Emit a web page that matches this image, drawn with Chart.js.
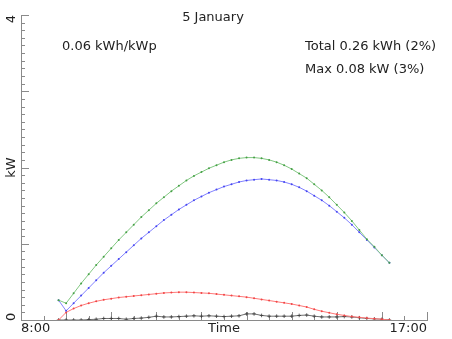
<!DOCTYPE html>
<html>
<head>
<meta charset="utf-8">
<script src="https://cdn.jsdelivr.net/npm/chart.js@4/dist/chart.umd.min.js"></script>
<style>
  html, body { margin: 0; padding: 0; background: #fff; }
</style>
</head>
<body>
<canvas id="myChart" width="452" height="339"></canvas>
<script>
// 10 minute samples for the day
var times = [
  '8:50',
  '9:00', '9:10', '9:20', '9:30', '9:40', '9:50',
  '10:00', '10:10', '10:20', '10:30', '10:40', '10:50',
  '11:00', '11:10', '11:20', '11:30', '11:40', '11:50',
  '12:00', '12:10', '12:20', '12:30', '12:40', '12:50',
  '13:00', '13:10', '13:20', '13:30', '13:40', '13:50',
  '14:00', '14:10', '14:20', '14:30', '14:40', '14:50',
  '15:00', '15:10', '15:20', '15:30', '15:40', '15:50',
  '16:00', '16:10'
];

// kW
var clearSky = [
  0.26, 0.22, 0.35, 0.48, 0.60, 0.72, 0.83, 0.94, 1.05, 1.15,
  1.25, 1.35, 1.44, 1.53, 1.61, 1.69, 1.76, 1.83, 1.89, 1.94,
  1.99, 2.03, 2.07, 2.10, 2.12, 2.13, 2.13, 2.12, 2.10, 2.07,
  2.03, 1.98, 1.92, 1.86, 1.78, 1.70, 1.61, 1.51, 1.41, 1.30,
  1.18, 1.06, 0.96, 0.85, 0.75
];
var expected = [
  0.26, 0.12, 0.22, 0.32, 0.42, 0.52, 0.62, 0.71, 0.80, 0.89,
  0.98, 1.07, 1.15, 1.23, 1.31, 1.38, 1.45, 1.51, 1.57, 1.62,
  1.67, 1.71, 1.75, 1.78, 1.81, 1.83, 1.84, 1.85, 1.84, 1.83,
  1.81, 1.78, 1.74, 1.69, 1.63, 1.57, 1.50, 1.42, 1.34, 1.25,
  1.15, 1.05, 0.95, 0.85, 0.75
];
var diffuse = [
  0.00, 0.10, 0.15, 0.19, 0.22, 0.245, 0.265, 0.28, 0.295, 0.305,
  0.315, 0.325, 0.335, 0.345, 0.355, 0.36, 0.365, 0.365, 0.36, 0.355,
  0.35, 0.34, 0.33, 0.32, 0.31, 0.30, 0.285, 0.27, 0.255, 0.24,
  0.225, 0.21, 0.19, 0.17, 0.14, 0.115, 0.095, 0.075, 0.06, 0.045,
  0.035, 0.025, 0.018, 0.01, 0.00
];
var measured = [
  0.00, 0.00, 0.00, 0.00, 0.005, 0.01, 0.02, 0.02, 0.02, 0.01,
  0.02, 0.025, 0.035, 0.05, 0.04, 0.04, 0.045, 0.05, 0.055, 0.05,
  0.055, 0.05, 0.045, 0.05, 0.055, 0.08, 0.08, 0.06, 0.05, 0.05,
  0.05, 0.05, 0.06, 0.065, 0.05, 0.04, 0.04, 0.04, 0.045, 0.04,
  0.03, 0.02, 0.015, 0.01, 0.00
];

var title = '5 January';
var yieldText = '0.06 kWh/kWp';
var totalText = 'Total 0.26 kWh (2%)';
var maxText = 'Max 0.08 kW (3%)';

var xTickLabels = ['8:00', 'Time', '17:00'];
var yTickLabels = ['0', 'kW', '4'];

function hours(s) {
  var p = s.split(':');
  return +p[0] + p[1] / 60;
}

function series(vals) {
  return times.map(function (t, i) { return {x: hours(t), y: vals[i]}; });
}

var FONT = '13px "DejaVu Sans", sans-serif';
var AXIS = '#8a8a8a';
var INK = '#222';

// inward ticks, edge-aligned tick labels and the text block
var decor = {
  id: 'decor',
  beforeDatasetsDraw: function (chart) {
    var c = chart.ctx, a = chart.chartArea;
    var xs = chart.scales.x, ys = chart.scales.y;
    c.save();
    c.strokeStyle = AXIS;
    c.lineWidth = 1;
    c.beginPath();
    for (var h = 16; h <= 34; h++) {
      var px = Math.round(xs.getPixelForValue(h / 2)) + 0.5;
      var len = h % 2 ? 4 : 8;
      c.moveTo(px, a.bottom);
      c.lineTo(px, a.bottom - len);
    }
    for (var k = 0; k <= 40; k++) {
      var py = Math.round(ys.getPixelForValue(k / 10)) + 0.5;
      var l = k % 10 ? 4 : 8;
      c.moveTo(a.left, py);
      c.lineTo(a.left + l, py);
    }
    c.stroke();
    c.restore();
  },
  afterDraw: function (chart) {
    var c = chart.ctx, a = chart.chartArea;
    var xs = chart.scales.x, ys = chart.scales.y;
    c.save();
    c.fillStyle = INK;
    c.font = FONT;
    c.textBaseline = 'middle';

    c.textAlign = 'center';
    c.fillText(title, 213, 18);
    c.textAlign = 'left';
    c.fillText(yieldText, 62, 47);
    c.fillText(totalText, 305, 47);
    c.fillText(maxText, 305, 70);

    var ly = a.bottom + 9;
    c.textAlign = 'left';
    c.fillText(xTickLabels[0], a.left, ly);
    c.textAlign = 'center';
    c.fillText(xTickLabels[1], xs.getPixelForValue(12.5), ly);
    c.textAlign = 'right';
    c.fillText(xTickLabels[2], a.right, ly);

    c.translate(12, 0);
    c.rotate(-Math.PI / 2);
    c.textAlign = 'left';
    c.fillText(yTickLabels[0], -a.bottom - 1, 0);
    c.textAlign = 'center';
    c.fillText(yTickLabels[1], -ys.getPixelForValue(2), 0);
    c.textAlign = 'right';
    c.fillText(yTickLabels[2], -a.top, 0);
    c.restore();
  }
};

var ctx = document.getElementById('myChart');

const cfg = {
  type: 'line',
  data: {
    datasets: [
      {
        label: 'clear sky',
        data: series(clearSky),
        borderColor: 'rgb(130,200,130)',
        backgroundColor: 'rgb(70,160,70)',
        borderWidth: 1,
        pointRadius: 1,
        pointBorderWidth: 0
      },
      {
        label: 'expected',
        data: series(expected),
        borderColor: 'rgb(130,130,255)',
        backgroundColor: 'rgb(70,70,240)',
        borderWidth: 1,
        pointRadius: 1,
        pointBorderWidth: 0
      },
      {
        label: 'diffuse',
        data: series(diffuse),
        borderColor: 'rgb(255,120,120)',
        backgroundColor: 'rgb(240,70,70)',
        borderWidth: 1,
        pointRadius: 1,
        pointBorderWidth: 0
      },
      {
        label: 'measured',
        data: series(measured),
        borderColor: 'rgb(110,110,110)',
        backgroundColor: 'rgb(60,60,60)',
        borderWidth: 1,
        pointStyle: 'cross',
        pointRadius: 1.8,
        pointBorderWidth: 0.8,
        pointBorderColor: 'rgb(60,60,60)'
      }
    ]
  },
  options: {
    responsive: false,
    animation: false,
    devicePixelRatio: 1,
    layout: { padding: { left: 21, right: 25, top: 15, bottom: 19 } },
    plugins: {
      legend: { display: false },
      tooltip: { enabled: false }
    },
    elements: { line: { tension: 0 } },
    scales: {
      x: {
        type: 'linear',
        min: 8,
        max: 17,
        ticks: { display: false },
        grid: { display: false, drawTicks: false },
        border: { color: AXIS, width: 1 },
        afterFit: function (s) { s.height = 0; }
      },
      y: {
        min: 0,
        max: 4,
        ticks: { display: false },
        grid: { display: false, drawTicks: false },
        border: { color: AXIS, width: 1 },
        afterFit: function (s) { s.width = 0; }
      }
    }
  },
  plugins: [decor]
};

new Chart(ctx, cfg);
</script>
</body>
</html>
